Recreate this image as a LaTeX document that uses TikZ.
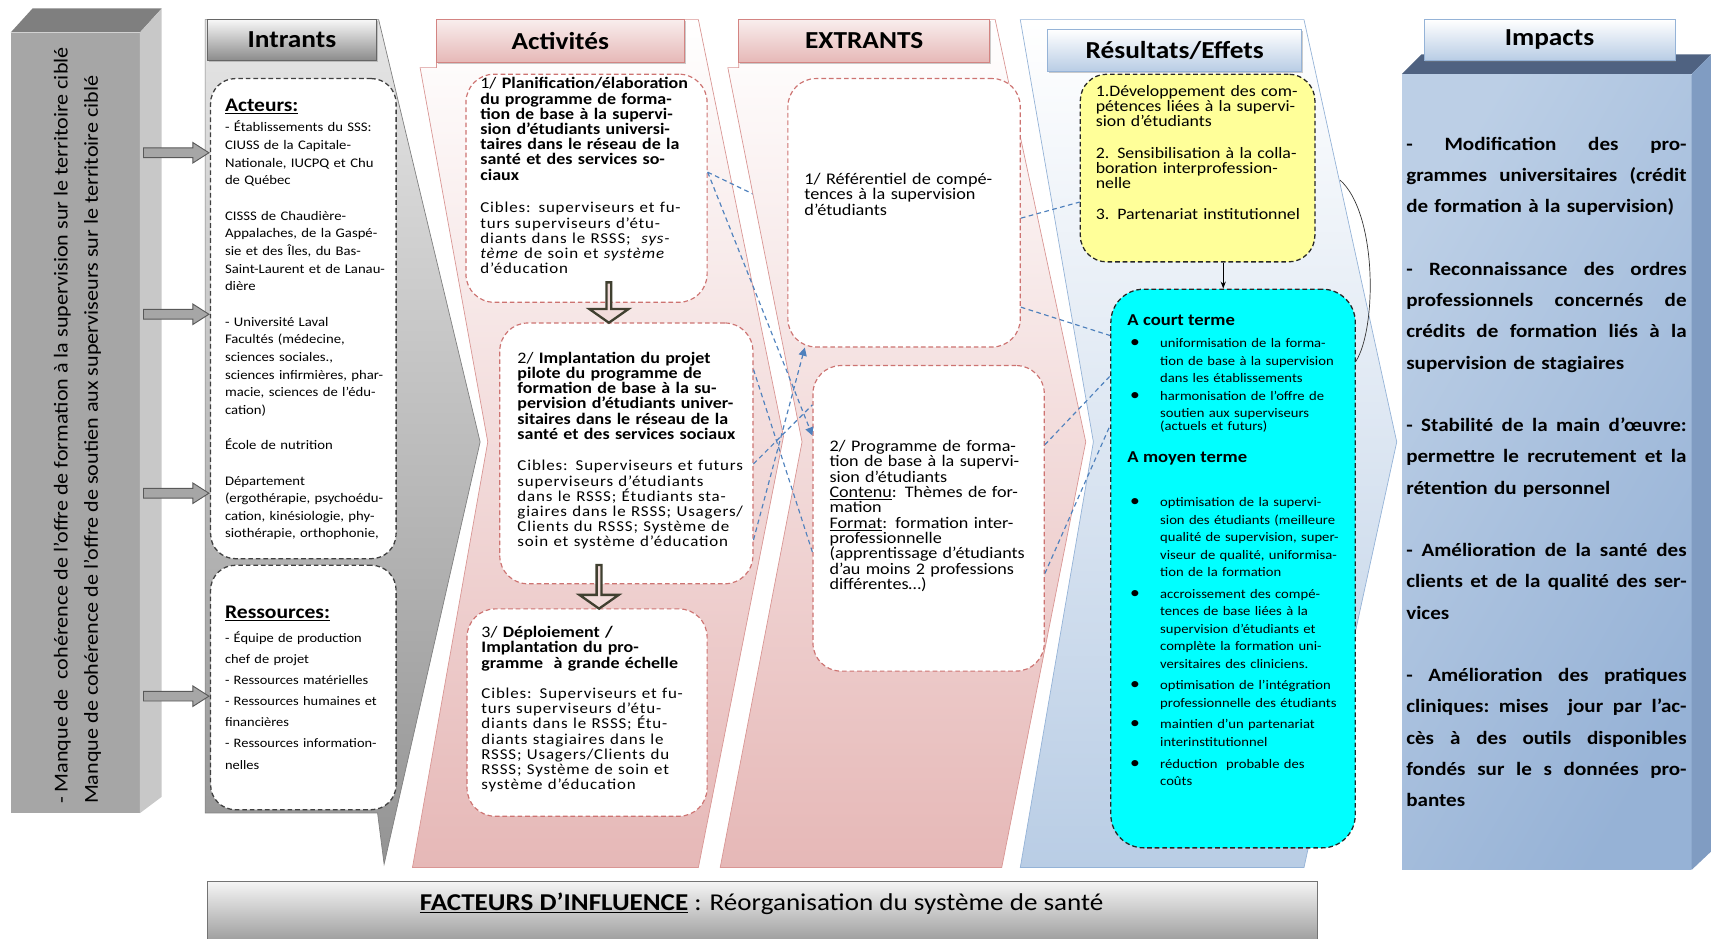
\documentclass[tikz,border=0pt]{standalone}
\usepackage{fontspec}
\setmainfont{Carlito}[FakeStretch=1.12]
\usepackage{xcolor}
\usepackage{tikz}
\usetikzlibrary{arrows.meta, positioning, calc, shapes.arrows, shadows}

\definecolor{boxgrey}{RGB}{166,166,166}
\definecolor{topgrey}{RGB}{127,127,127}
\definecolor{sidegrey}{RGB}{200,200,200}
\definecolor{pinklight}{RGB}{242,220,219}
\definecolor{pinkmid}{RGB}{230,184,183}
\definecolor{pinkline}{RGB}{217,150,148}
\definecolor{pinkdash}{RGB}{192,80,77}
\definecolor{bluemid}{RGB}{185,205,229}
\definecolor{blueline}{RGB}{149,179,215}
\definecolor{bluedash}{RGB}{79,129,189}
\definecolor{bluedark}{RGB}{79,98,129}
\definecolor{blueside}{RGB}{128,156,194}
\definecolor{impleft}{RGB}{188,207,230}
\definecolor{impmid}{RGB}{226,234,245}
\definecolor{impright}{RGB}{150,178,214}
\definecolor{noteyellow}{RGB}{255,255,153}
\definecolor{notecyan}{RGB}{0,255,255}
\definecolor{arrowolive}{RGB}{64,64,48}

\newcommand{\px}{0.033cm}
\newcommand{\jl}[1]{\makebox[8.48cm][s]{\spaceskip=0.18em plus 1fil\relax #1}}
\newcommand{\bul}{\makebox[0.99cm][l]{\hspace{0.08cm}{\fontsize{15}{15}\selectfont\textbullet}}}
\newcommand{\ind}{\hspace*{0.99cm}}
\newcommand{\cib}{\addfontfeature{LetterSpace=5.5}\fontsize{13}{13.1}\selectfont}

\tikzset{
  sz/.style 2 args={minimum width=#1*\px, minimum height=#2*\px, inner sep=0pt},
  txt/.style={inner sep=0pt, anchor=west, align=left, text width=7.8cm},
  hdr/.style={draw, line width=0.6pt, font=\fontsize{21}{23}\selectfont\bfseries,
    drop shadow={shadow xshift=1.2pt, shadow yshift=-1.5pt, opacity=0.4}},
  greyhdr/.style={hdr, draw=black!60, top color=black!3, bottom color=black!45},
  pinkhdr/.style={hdr, draw=pinkdash!70, top color=pinklight!50!white, bottom color=pinkmid},
  bluehdr/.style={hdr, draw=blueline, top color=white, bottom color=bluemid},
  greybox/.style={draw=black!75, fill=white, line width=1.1pt, dash pattern=on 4pt off 2.5pt, rounded corners=0.75cm},
  pinkbox/.style={draw=pinkdash!80, fill=white, line width=1pt, dash pattern=on 4pt off 2.5pt, rounded corners=0.85cm},
  notebox/.style={draw=black!85, line width=1.1pt, dash pattern=on 4pt off 2.5pt},
  greyarrow/.style={single arrow, draw=black!65, fill=boxgrey, line width=0.8pt, minimum height=1.98cm,
    minimum width=0.594cm, single arrow head extend=0.165cm, single arrow tip angle=65,
    inner xsep=0pt, inner ysep=0.132cm},
  downarrow/.style={single arrow, shape border rotate=270, draw=arrowolive, fill=pinklight, line width=2pt,
    minimum width=1.19cm, single arrow head extend=0.25cm, single arrow tip angle=110, inner sep=0pt},
  lnk/.style={draw=bluedash, line width=1pt, dash pattern=on 4pt off 3pt},
  lnkarr/.style={lnk, -{Triangle[length=7pt, width=7pt]}},
}

\begin{document}
\begin{tikzpicture}[x=0.033cm, y=-0.033cm]
\useasboundingbox (0,0) rectangle (1568,860);

% boite grise a gauche
\node[sz={118}{715}, fill=boxgrey] (lb) at (69,387.5) {};
\fill[topgrey] (lb.north west) -- ++(20,-22) -- ($(lb.north east)+(20,-22)$) -- (lb.north east) -- cycle;
\fill[sidegrey] (lb.north east) -- ++(20,-22) -- ($(lb.south east)+(20,-15)$) -- (lb.south east) -- cycle;
\node[rotate=90, anchor=west, align=left, inner sep=0pt, font=\fontsize{17}{26}\selectfont] (lbt) at (71,737)
  {- Manque de\ \ cohérence de l’offre de formation à la supervision sur le territoire ciblé\\
   Manque de cohérence de l’offre de soutien aux superviseurs sur le territoire ciblé};

% Intrants
\path[draw=black!50, line width=0.6pt, top color=black!10, bottom color=black!42]
  (188,18) -- (347,18) -- (440,405) -- (352,792) -- (346,745) -- (188,745) -- cycle;
\node[greyhdr, sz={155}{37}] (hint) at (267.5,36.5) {Intrants};
\foreach \yy/\nm in {140/la1, 288/la2, 452/la3, 638/la4}
  \node[greyarrow] (\nm) at (158,\yy) {};
\node[greybox, sz={170}{440}] (acteurs) at (278,292) {};
\node[greybox, sz={170}{224}] (ress) at (278,630) {};
\node[txt, font=\fontsize{11.3}{15.2}\selectfont] (acteurst) at (206,293)
  {{\fontsize{16.5}{17}\selectfont\bfseries\underline{Acteurs:}}\\[2pt]
   - Établissements du SSS:\\
   CIUSS de la Capitale-\\
   Nationale, IUCPQ et Chu\\
   de Québec\\[15.2pt]
   CISSS de Chaudière-\\
   Appalaches, de la Gaspé-\\
   sie et des Îles, du Bas-\\
   Saint-Laurent et de Lanau-\\
   dière\\[15.2pt]
   - Université Laval\\
   Facultés (médecine,\\
   sciences sociales.,\\
   sciences infirmières, phar-\\
   macie, sciences de l’édu-\\
   cation)\\[15.2pt]
   École de nutrition\\[15.2pt]
   Département\\
   (ergothérapie, psychoédu-\\
   cation, kinésiologie, phy-\\
   siothérapie, orthophonie,};
\node[txt, font=\fontsize{11.1}{18.1}\selectfont] (resst) at (206,630)
  {{\fontsize{16.6}{19}\selectfont\bfseries\underline{Ressources:}}\\[3pt]
   - Équipe de production\\
   chef de projet\\
   - Ressources matérielles\\
   - Ressources humaines et\\
   financières\\
   - Ressources information-\\
   nelles};

% Activites
\path[draw=pinkline, line width=0.6pt, top color=white, bottom color=pinkmid]
  (385,62) -- (400,62) -- (400,18) -- (640,18) -- (718,400) -- (640,795) -- (378,795) -- (447,405) -- cycle;
\node[pinkhdr, sz={227}{39}] (hact) at (513.5,37.5) {Activités};
\node[pinkbox, sz={221}{209}] (act1) at (537.5,172.5) {};
\node[pinkbox, sz={232}{239}] (act2) at (574,415.5) {};
\node[pinkbox, sz={220}{190}] (act3) at (538,653) {};
\node[downarrow, minimum height=1.22cm] (dn1) at (558,276.5) {};
\node[downarrow, minimum height=1.32cm] (dn2) at (549,537) {};
\node[txt, font=\fontsize{13.8}{13.1}\selectfont] (act1t) at (440,161)
  {1/ \textbf{Planification/élaboration}\\
   \textbf{du programme de forma-}\\
   \textbf{tion de base à la supervi-}\\
   \textbf{sion d’étudiants universi-}\\
   \textbf{taires dans le réseau de la}\\
   \textbf{santé et des services so-}\\
   \textbf{ciaux}\\[15pt]
   {\cib Cibles: superviseurs et fu-\\
   turs superviseurs d’étu-\\
   diants dans le RSSS;\ \ \textit{sys-}\\
   \textit{tème} de soin et \textit{système}\\
   d’éducation}};
\node[txt, font=\fontsize{13.8}{13.1}\selectfont] (act2t) at (474,413)
  {2/ \textbf{Implantation du projet}\\
   \textbf{pilote du programme de}\\
   \textbf{formation de base à la su-}\\
   \textbf{pervision d’étudiants univer-}\\
   \textbf{sitaires dans le réseau de la}\\
   \textbf{santé et des services sociaux}\\[14pt]
   {\cib Cibles: Superviseurs et futurs\\
   superviseurs d’étudiants\\
   dans le RSSS; Étudiants sta-\\
   giaires dans le RSSS; Usagers/\\
   Clients du RSSS; Système de\\
   soin et système d’éducation}};
\node[txt, font=\fontsize{13.8}{13.1}\selectfont] (act3t) at (441,650)
  {3/ \textbf{Déploiement /}\\
   \textbf{Implantation du pro-}\\
   \textbf{gramme\ \ à grande échelle}\\[13pt]
   {\cib Cibles: Superviseurs et fu-\\
   turs superviseurs d’étu-\\
   diants dans le RSSS; Étu-\\
   diants stagiaires dans le\\
   RSSS; Usagers/Clients du\\
   RSSS; Système de soin et\\
   système d’éducation}};
\coordinate (extin) at (732,198);
\draw[lnk] ($(act1.north east)!0.43!(act1.south east)$) -- (extin);

% Extrants
\path[draw=pinkline, line width=0.6pt, top color=white, bottom color=pinkmid]
  (667,62) -- (677,62) -- (677,18) -- (912,18) -- (995,405) -- (918,795) -- (660,795) -- (735,405) -- cycle;
\node[pinkhdr, sz={230}{39}] (hext) at (792,37.5) {EXTRANTS};
\node[pinkbox, sz={213}{246}] (ext1) at (828.5,195) {};
\node[pinkbox, sz={212}{280}] (ext2) at (851,475) {};
\node[txt, font=\fontsize{14}{13.6}\selectfont] (ext1t) at (737,178)
  {1/ Référentiel de compé-\\
   tences à la supervision\\
   d’étudiants};
\node[txt, font=\fontsize{13.9}{13.2}\selectfont] (ext2t) at (760,473)
  {2/ Programme de forma-\\
   tion de base à la supervi-\\
   sion d’étudiants\\
   \underline{Contenu}: Thèmes de for-\\
   mation\\
   \underline{Format}: formation inter-\\
   professionnelle\\
   (apprentissage d’étudiants\\
   d’au moins 2 professions\\
   différentes…)};

% Resultats / Effets
\path[draw=blueline, line width=0.6pt, top color=white, bottom color=bluemid]
  (935,18) -- (1195,18) -- (1280,405) -- (1195,795) -- (935,795) -- (1002,405) -- cycle;
\node[bluehdr, sz={233}{38}] (hres) at (1076.5,46) {Résultats/Effets};

\draw[lnkarr] ($(act1.north east)!0.43!(act1.south east)$) -- ($(ext2.north west)!0.23!(ext2.south west)$);
\draw[lnkarr] ($(act2.north east)!0.83!(act2.south east)$) -- ($(ext1.south west)!0.075!(ext1.south east)$);
\draw[lnk] ($(act2.north east)!0.54!(act2.south east)$) -- ($(ext2.north west)!0.13!(ext2.south west)$);
\draw[lnk] ($(act2.north east)!0.18!(act2.south east)$) -- ($(ext2.north west)!0.61!(ext2.south west)$);

\node[notebox, fill=noteyellow, rounded corners=0.8cm, sz={215}{172}] (yel) at (1097.5,154) {};
\node[notebox, fill=notecyan, rounded corners=1cm, sz={224}{512}] (cy) at (1130,521) {};
\draw[lnk] ($(ext1.north east)!0.52!(ext1.south east)$) -- ($(yel.north west)!0.68!(yel.south west)$);
\draw[lnk] ($(ext1.north east)!0.85!(ext1.south east)$) -- ($(cy.north west)!0.084!(cy.south west)$);
\draw[lnk] ($(ext2.north east)!0.26!(ext2.south east)$) -- ($(cy.north west)!0.156!(cy.south west)$);
\draw[lnk] ($(ext2.north east)!0.68!(ext2.south east)$) -- ($(cy.north west)!0.244!(cy.south west)$);
\coordinate (arrx) at (1121,0);
\draw[-{Stealth[length=6pt]}, line width=0.7pt] (yel.south -| arrx) -- (cy.north -| arrx);
\coordinate (arcs) at (1228,165);
\draw[line width=0.6pt, black!80] (arcs) .. controls (1262,195) and (1262,300) .. ($(cy.north east)!0.13!(cy.south east)$);

\node[txt, font=\fontsize{13.7}{12.9}\selectfont] (yelt) at (1004,140)
  {1.Développement des com-\\
   pétences liées à la supervi-\\
   sion d’étudiants\\[14pt]
   2. Sensibilisation à la colla-\\
   boration interprofession-\\
   nelle\\[14pt]
   3. Partenariat institutionnel};
\node[txt, font=\fontsize{11.25}{15}\selectfont] (cyt) at (1033,504)
  {{\fontsize{14.3}{15}\selectfont\bfseries A court terme}\\[4.5pt]
   \bul uniformisation de la forma-\\
   \ind tion de base à la supervision\\
   \ind dans les établissements\\
   \bul harmonisation de l’offre de\\
   \ind soutien aux superviseurs\\[-4pt]
   \ind (actuels et futurs)\\[13pt]
   {\fontsize{14.3}{15}\selectfont\bfseries A moyen terme}\\[23pt]
   \bul optimisation de la supervi-\\
   \ind sion des étudiants (meilleure\\
   \ind qualité de supervision, super-\\
   \ind viseur de qualité, uniformisa-\\
   \ind tion de la formation\\[3.7pt]
   \bul accroissement des compé-\\
   \ind tences de base liées à la\\
   \ind supervision d’étudiants et\\
   \ind complète la formation uni-\\
   \ind versitaires des cliniciens.\\[3.7pt]
   \bul optimisation de l’intégration\\
   \ind professionnelle des étudiants\\[3.7pt]
   \bul maintien d’un partenariat\\
   \ind interinstitutionnel\\[3.7pt]
   \bul réduction\ \ probable des\\
   \ind coûts};

% Impacts
\node[sz={265}{729}, left color=impleft, middle color=impmid, right color=impright, shading angle=60,
  text width=8.5cm, align=left, font=\fontsize{16.2}{27}\selectfont\bfseries] (imp) at (1417.5,432.5)
  {\jl{- Modification des pro-}\\
   \jl{grammes universitaires (crédit}\\
   de formation à la supervision)\\[26.5pt]
   \jl{- Reconnaissance des ordres}\\
   \jl{professionnels concernés de}\\
   \jl{crédits de formation liés à la}\\
   supervision de stagiaires\\[26.5pt]
   \jl{- Stabilité de la main d’œuvre:}\\
   \jl{permettre le recrutement et la}\\
   rétention du personnel\\[26.5pt]
   \jl{- Amélioration de la santé des}\\
   \jl{clients et de la qualité des ser-}\\
   vices\\[26.5pt]
   \jl{- Amélioration des pratiques}\\
   \jl{cliniques: mises\ \ jour par l’ac-}\\
   \jl{cès à des outils disponibles}\\
   \jl{fondés sur le s données pro-}\\
   bantes};
\fill[bluedark] (imp.north west) -- ++(18,-18) -- ($(imp.north east)+(18,-18)$) -- (imp.north east) -- cycle;
\fill[blueside] (imp.north east) -- ++(18,-18) -- ($(imp.south east)+(18,-17)$) -- (imp.south east) -- cycle;
\node[bluehdr, sz={230}{37}] (himp) at (1420,36.5) {Impacts};

% facteurs d'influence
\node[sz={1017}{54}, draw=black!55, top color=black!4, bottom color=black!38] (fact) at (698.5,835) {};
\node[inner sep=0pt, font=\fontsize{20.8}{22}\selectfont] (factt) at (698,828)
  {\textbf{\underline{FACTEURS D’INFLUENCE}} : Réorganisation du système de santé};
\end{tikzpicture}
\end{document}
